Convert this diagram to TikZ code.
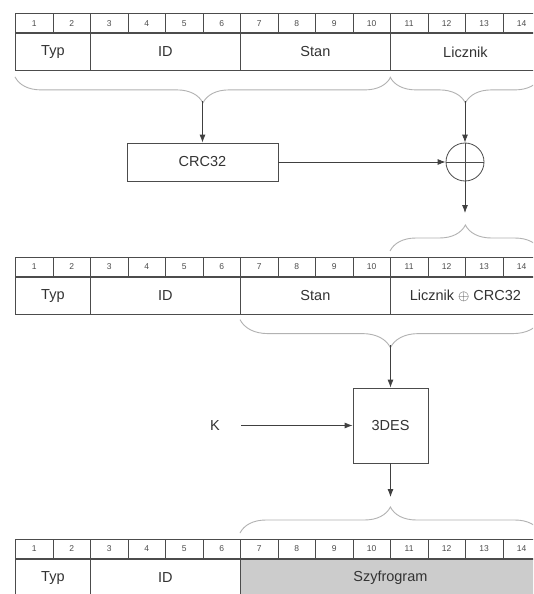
\documentclass[tikz,border=0pt]{standalone}
\usepackage{fontspec}
\setmainfont{Liberation Sans}
\usepackage{tikz}
\usetikzlibrary{arrows.meta, positioning, decorations.pathreplacing}
\tikzset{
  numcell/.style={rectangle, draw=black!70, line width=0.8pt,
                  minimum width=37.5pt, minimum height=19pt, inner sep=0pt,
                  anchor=north west, text=black!70,
                  font=\fontsize{8.5}{9}\selectfont},
  field/.style={rectangle, draw=black!70, line width=0.8pt, fill=#1,
                minimum height=37pt, inner sep=0pt, anchor=north west,
                text=black!80, font=\fontsize{14.5}{16}\selectfont},
  field/.default=white,
  block/.style={rectangle, draw=black!70, line width=0.8pt, inner sep=0pt,
                text=black!80, font=\fontsize{14.5}{16}\selectfont},
  arr/.style={-{Latex[length=8pt,width=6pt]}, line width=0.8pt, black!75},
  brc/.style={decorate, decoration={brace, amplitude=#1},
              line width=0.9pt, black!30},
  brc/.default=26pt,
}

\begin{document}
\begin{tikzpicture}[x=1pt, y=-1pt]
  \clip (0,0) rectangle (533,594);
  \fill[white] (0,0) rectangle (533,594);
  %% byte numbers of the three frames
  \foreach \r/\ty in {a/13.3, b/257, c/539}
    \foreach \i in {1,...,14}
      \node[numcell] (\r\i) at ({15+(\i-1)*37.5}, \ty) {\i};
  %% frame 1
  \node[field, minimum width=75pt]  (typA)  at (a1.south west) {Typ};
  \node[field, minimum width=150pt] (idA)   at (a3.south west) {ID};
  \node[field, minimum width=150pt] (stanA) at (a7.south west) {Stan};
  \node[field, minimum width=150pt] (licA)  at (a11.south west) {Licznik};
  %% frame 2
  \node[field, minimum width=75pt]  (typB)  at (b1.south west) {Typ};
  \node[field, minimum width=150pt] (idB)   at (b3.south west) {ID};
  \node[field, minimum width=150pt] (stanB) at (b7.south west) {Stan};
  \node[field, minimum width=150pt] (licB)  at (b11.south west) {Licznik $\oplus$ CRC32};
  %% frame 3
  \node[field, minimum width=75pt]  (typC)  at (c1.south west) {Typ};
  \node[field, minimum width=150pt] (idC)   at (c3.south west) {ID};
  \node[field=black!20, minimum width=300pt] (szyC) at (c7.south west) {Szyfrogram};
  %% CRC32 and XOR
  \node[block, minimum width=151pt, minimum height=38pt] (crc) at (202.5,162) {CRC32};
  \node[circle, draw=black!70, line width=0.8pt, minimum size=38pt,
        inner sep=0pt] (xor) at (465,162) {};
  \draw[line width=0.8pt, black!70] (xor.north) -- (xor.south)
                                    (xor.west) -- (xor.east);
  %% 3DES
  \node[block, minimum width=75pt, minimum height=75pt] (des) at (390.5,425.5) {3DES};
  \node[text=black!80, font=\fontsize{14.5}{16}\selectfont] (key) at (215,425.5) {K};
  %% braces
  \draw[brc] ([yshift=-6pt]stanA.south east) -- ([yshift=-6pt]typA.south west);
  \draw[brc] ([yshift=-6pt]licA.south east) -- ([yshift=-6pt]licA.south west);
  \draw[brc] ([yshift=6pt]b11.north west) -- ([yshift=6pt]b14.north east);
  \draw[brc=28pt] ([yshift=-5pt]licB.south east) -- ([yshift=-5pt]stanB.south west);
  \draw[brc] ([yshift=6pt]c7.north west) -- ([yshift=6pt]c14.north east);
  \coordinate (tip1) at (202.5,101);
  \coordinate (tip2) at (465,101);
  \coordinate (xout) at (465,213);
  \coordinate (tip4) at (390.5,345);
  \coordinate (dout) at (390.5,497);
  %% connectors
  \draw[arr] (tip1) -- (crc.north);
  \draw[arr] (tip2) -- (xor.north);
  \draw[arr] (crc.east) -- (xor.west);
  \draw[arr] (xor.south) -- (xout);
  \draw[arr] (tip4) -- (des.north);
  \draw[arr, shorten <=18pt] (key.east) -- (des.west);
  \draw[arr] (des.south) -- (dout);
\end{tikzpicture}
\end{document}
